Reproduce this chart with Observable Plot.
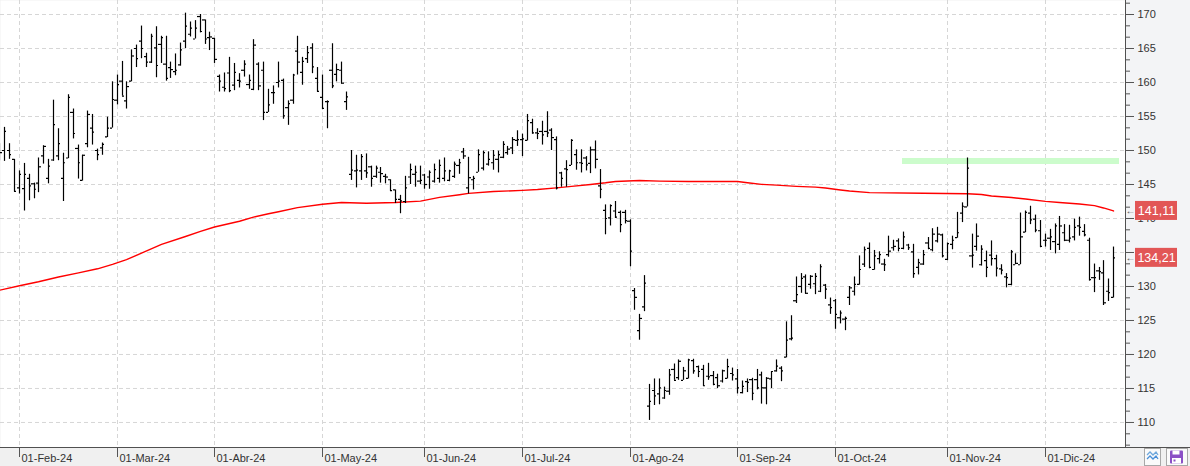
<!DOCTYPE html>
<html><head><meta charset="utf-8">
<script src="https://cdn.jsdelivr.net/npm/d3@7"></script>
<script src="https://cdn.jsdelivr.net/npm/@observablehq/plot@0.6"></script>
<style>
html,body{margin:0;padding:0;background:#f0f0f0;}
#chart{width:1190px;height:466px;}
</style></head><body><div id="chart"></div>
<script>
// ---- data: daily OHLC bars, bar index starts at firstBar ----
const firstBar = -1;
const opens = [
150.2,150.0,150.0,148.7,144.5,144.4,145.9,145.1,145.2,149.2,145.9,
148.6,149.2,145.9,148.9,155.6,150.3,145.6,151.0,153.3,150.0,
150.4,152.0,153.3,157.4,160.2,157.3,160.2,165.0,166.1,163.8,
163.0,165.1,165.6,162.7,162.2,161.6,162.6,166.1,167.1,166.4,
169.7,169.2,166.6,166.5,160.9,159.3,161.4,159.6,160.3,161.8,
159.7,159.0,162.7,161.8,155.6,158.5,160.0,160.3,156.3,157.4,
164.6,161.5,163.5,165.1,160.6,157.8,157.2,161.8,161.2,161.8,
157.2,146.5,147.0,147.0,147.0,147.6,146.2,146.8,146.2,145.7,
144.2,142.8,142.5,146.1,146.5,145.5,146.4,146.1,145.5,145.9,
145.9,145.6,146.2,147.8,149.8,144.5,145.7,146.8,147.4,148.0,
148.2,148.7,149.0,149.7,150.4,151.5,151.6,151.5,154.1,152.6,
152.8,152.8,153.0,151.6,146.7,147.3,147.8,149.4,148.2,148.9,
148.1,150.1,144.8,141.2,140.1,141.1,140.9,140.9,139.6,129.4,
123.5,127.0,112.4,114.7,114.2,113.6,114.6,117.8,116.6,116.2,
116.5,119.1,118.2,117.8,116.8,116.9,116.6,116.1,116.5,117.2,
116.4,114.4,116.0,116.3,116.3,117.0,115.1,116.4,117.6,118.0,
119.6,122.3,127.9,130.0,131.4,130.3,130.4,129.3,130.2,127.3,
127.9,125.4,125.2,128.4,129.3,130.3,133.3,135.6,132.5,134.1,
133.3,134.7,135.7,136.7,135.6,136.1,135.1,132.8,133.3,136.4,
135.4,136.7,137.6,134.0,136.2,137.2,140.8,141.7,134.5,135.9,
133.2,133.8,134.6,134.1,132.6,131.4,130.3,133.2,133.2,138.0,
140.8,139.9,138.2,136.8,137.1,136.6,136.2,137.9,136.8,137.3,
138.9,138.1,136.8,131.3,132.3,132.0,129.3,128.4
];
const highs = [
151.0,153.4,151.0,148.7,147.0,148.1,146.5,145.2,148.9,150.7,148.7,
157.4,153.2,149.6,158.2,156.1,150.8,149.3,155.8,155.3,150.2,
151.1,154.9,160.1,161.1,163.1,160.1,164.8,165.5,168.3,164.3,
167.1,168.2,166.8,166.8,163.0,164.2,165.8,170.2,168.9,169.1,
170.0,169.2,167.4,166.5,161.1,161.4,163.7,162.8,161.3,163.2,
161.1,166.3,162.9,163.0,159.0,159.5,163.0,160.5,157.3,161.2,
166.8,163.7,165.3,165.7,162.2,161.1,157.3,165.7,162.7,163.0,
158.6,150.0,149.3,149.4,149.5,147.7,147.7,147.5,146.5,145.7,
144.2,143.4,146.2,148.0,147.7,147.7,146.5,147.0,148.0,148.6,
148.9,147.1,148.3,148.7,150.3,149.0,146.2,150.1,149.9,149.8,
150.0,149.9,151.3,150.6,151.9,152.9,152.4,155.3,154.6,153.2,
154.3,155.7,153.2,152.0,146.8,148.5,151.6,150.1,150.1,149.1,
150.5,151.4,147.2,142.0,142.0,142.5,141.1,141.2,139.8,129.7,
125.9,131.6,115.6,116.4,116.4,115.2,117.8,118.6,119.2,118.1,
119.3,119.3,118.3,118.4,118.7,117.5,117.1,117.7,119.3,118.0,
117.8,116.1,116.4,116.5,117.8,117.4,116.6,117.5,119.2,118.2,
124.8,125.7,131.4,131.9,131.7,131.6,131.9,133.2,130.3,128.3,
128.1,126.4,125.5,130.0,131.4,134.5,135.8,136.4,135.3,135.1,
134.0,137.4,136.8,137.0,138.0,136.2,136.2,134.0,135.3,137.2,
138.5,138.7,137.7,136.4,137.4,140.9,142.3,148.9,137.7,139.2,
136.0,135.2,136.7,134.6,133.2,131.9,135.3,134.8,140.8,141.1,
141.8,140.5,139.7,137.7,138.4,139.2,140.3,139.1,139.0,139.9,
140.2,139.1,137.1,133.3,132.8,133.8,131.1,135.8
];
const lows = [
148.5,148.4,148.7,143.9,143.6,141.1,142.6,142.9,143.8,148.0,145.1,
148.4,148.5,142.5,148.8,151.7,145.8,145.5,150.4,150.8,148.5,
149.3,151.9,153.3,156.7,158.0,156.1,160.1,162.2,163.5,162.2,
162.8,160.7,162.8,160.2,160.6,161.0,162.4,165.0,166.7,166.4,
167.3,165.6,164.7,162.8,158.6,158.6,158.5,158.8,159.2,160.8,
159.0,158.8,158.8,154.4,155.6,156.8,159.2,154.6,153.7,156.8,
161.1,159.6,162.8,161.3,158.6,156.0,153.2,159.1,160.1,159.8,
155.9,145.6,144.5,145.6,145.9,144.6,145.9,145.2,145.1,144.0,
142.2,140.7,142.2,145.0,144.6,145.0,144.3,144.3,145.2,145.2,
145.4,145.4,145.9,146.5,148.7,143.6,144.2,146.8,147.0,147.7,
147.1,146.7,148.8,149.3,149.4,150.6,149.1,151.4,152.4,151.6,
150.8,151.9,150.0,144.2,144.6,144.6,147.8,147.1,146.7,147.0,
146.6,147.3,142.9,137.6,138.9,140.0,137.9,139.2,132.9,126.5,
122.1,126.3,110.3,112.5,112.6,113.4,114.0,116.2,116.2,116.2,
116.4,117.1,116.6,115.3,116.2,115.4,115.0,115.8,116.4,116.1,
114.2,114.2,114.4,113.2,114.8,112.7,112.6,115.0,117.4,116.0,
119.5,122.0,127.5,129.0,128.9,129.6,128.8,129.1,128.1,125.9,
123.7,124.5,123.5,127.2,128.6,130.2,132.8,132.6,132.4,133.3,
132.2,134.3,135.2,135.1,135.4,135.3,131.2,131.7,133.1,135.4,
135.1,136.4,134.2,133.8,135.4,137.1,139.4,141.7,132.7,135.2,
133.0,131.3,133.0,131.4,131.7,129.8,130.1,133.2,133.2,137.9,
139.1,137.9,135.7,135.8,135.3,134.8,135.3,136.6,136.4,136.7,
137.4,137.3,130.8,129.1,130.9,127.2,127.8,128.3
];
const closes = [
149.7,152.8,149.4,144.0,146.5,146.5,144.8,144.3,147.6,150.6,147.7,
153.8,151.0,148.2,157.8,152.5,148.2,149.3,155.3,152.7,149.4,
150.9,153.3,157.5,159.7,158.0,159.4,163.9,163.5,165.0,163.0,
166.8,162.5,166.6,160.6,161.9,161.8,164.8,168.3,168.0,168.0,
167.5,166.4,166.7,163.4,160.2,159.1,158.8,161.5,160.2,162.7,
160.3,165.5,159.5,155.6,156.7,158.5,160.2,155.1,156.9,161.1,
163.0,163.1,164.4,162.3,158.7,156.2,157.2,159.5,161.9,159.9,
157.9,147.1,147.1,149.1,146.7,145.9,147.4,146.6,146.1,144.1,
142.8,142.6,144.5,147.2,146.8,145.6,145.0,146.8,147.2,147.8,
147.0,147.0,148.0,148.2,149.2,146.0,145.9,149.4,149.7,148.7,
149.3,149.4,150.9,150.2,151.6,151.6,151.7,154.4,152.6,152.5,
152.3,152.6,151.9,144.5,145.9,147.2,151.5,148.2,148.1,147.9,
150.1,148.7,144.3,140.0,141.9,140.2,139.1,139.7,135.2,128.4,
125.3,130.5,113.1,113.9,115.1,114.7,117.0,116.2,119.0,117.6,
119.2,117.6,117.5,115.4,116.7,115.6,115.4,117.6,118.2,117.0,
115.1,115.3,115.9,114.3,115.1,115.1,116.5,117.5,118.3,117.6,
122.1,122.4,128.8,131.2,129.0,131.5,131.5,132.9,129.6,126.9,
125.9,126.1,125.3,129.8,130.3,132.5,135.4,132.8,134.5,134.7,
133.2,135.2,135.9,135.6,137.3,135.7,131.9,133.5,134.7,135.6,
137.7,137.7,134.5,136.3,136.8,137.9,141.8,147.4,134.6,137.4,
135.5,132.8,134.1,132.7,132.4,131.3,135.1,133.4,137.3,140.9,
139.8,138.3,135.9,136.8,137.3,138.9,138.9,136.8,137.1,138.7,
138.7,137.6,131.0,131.3,132.2,127.6,129.1,134.21
];
// moving average (red line), read at bar indices
const maIndex = [-1,3,7,11,15,19,22,25,28,32,37,40,43,48,51,54,56,60,65,69,74,80,85,89,93,95,100,106,109,113,116,120,123,125,130,134,140,150,152,155,158,162,166,168,171,173,177,188,197,200,202,206,209,213,216,220,223,225,227];
const maValue = [129.45,130.1,130.7,131.4,132.0,132.6,133.25,133.95,134.9,136.2,137.35,138.1,138.75,139.6,140.2,140.7,141.0,141.6,142.1,142.35,142.25,142.35,142.55,143.1,143.5,143.7,143.97,144.13,144.26,144.5,144.73,145.0,145.25,145.45,145.59,145.5,145.44,145.44,145.25,145.02,144.9,144.72,144.61,144.48,144.2,144.04,143.8,143.72,143.63,143.52,143.3,143.08,142.86,142.52,142.36,142.14,141.9,141.55,141.11];
// month axis
const monthLabels = ["01-Feb-24","01-Mar-24","01-Abr-24","01-May-24","01-Jun-24","01-Jul-24","01-Ago-24","01-Sep-24","01-Oct-24","01-Nov-24","01-Dic-24"];
const monthIndex = [3,23,43,65,86,106,128,150,170,193,213];
// green resistance level
const levelFrom = [183.8], levelTo = [228.2], levelValue = [148.45];
// last-value labels: moving average, close
const lastValues = [141.11, 134.21];

// ---- build ----
const bars = opens.map((o, k) => ({i: k + firstBar, o, h: highs[k], l: lows[k], c: closes[k]}));
const ma = maIndex.map((i, k) => ({i, v: maValue[k]}));
const levels = levelValue.map((v, k) => ({from: levelFrom[k], to: levelTo[k], v}));
const xDomain = [-0.88, 229.42];
const yDomain = [106.32, 172.06];
const yMajor = d3.range(110, 171, 5);
const yMinor = d3.range(-3, 40).map(k => 110 + k * 5 / 3)
  .filter(v => v > yDomain[0] && v < yDomain[1] && Math.abs(v / 5 - Math.round(v / 5)) > 0.01);
const fmt = v => d3.format(".2f")(v).replace(".", ",");

const chart = Plot.plot({
  width: 1190, height: 466,
  marginLeft: 0, marginRight: 65, marginTop: 0, marginBottom: 19,
  style: {background: "transparent", fontFamily: "Liberation Sans, Arial, sans-serif", overflow: "visible"},
  x: {domain: xDomain, axis: null, round: true},
  y: {domain: yDomain, axis: null},
  marks: [
    Plot.frame({fill: "white", stroke: "none"}),
    Plot.ruleY(yMajor, {stroke: "#d6d6d6", strokeDasharray: "4,3"}),
    Plot.ruleX(monthIndex, {stroke: "#d6d6d6", strokeDasharray: "4,3"}),
    Plot.ruleY(levels, {y: "v", x1: "from", x2: "to", stroke: "#ccfccc", strokeWidth: 6}),
    Plot.line(ma, {x: "i", y: "v", stroke: "#ff0000", strokeWidth: 1.4, clip: true}),
    Plot.ruleX(bars, {x: "i", y1: "l", y2: "h", stroke: "black", strokeWidth: 1.2, clip: true}),
    Plot.ruleY(bars, {y: "o", x1: d => d.i - 0.45, x2: "i", stroke: "black", strokeWidth: 1.2, clip: true}),
    Plot.ruleY(bars, {y: "c", x1: "i", x2: d => d.i + 0.45, stroke: "black", strokeWidth: 1.2, clip: true}),
    Plot.axisY(yMajor, {anchor: "right", tickSize: 8, tickPadding: 4, fontSize: 11, stroke: "#555", fill: "#333", label: null}),
    Plot.axisY(yMinor, {anchor: "right", tickSize: 4, tickFormat: () => "", stroke: "#555", label: null}),
    Plot.axisX(monthIndex, {anchor: "bottom", tickSize: 10, tickFormat: () => "", stroke: "#555", label: null}),
    Plot.text(monthIndex, {x: d => d, text: (d, k) => monthLabels[k], frameAnchor: "bottom", dy: 11, dx: 2,
      textAnchor: "start", lineAnchor: "middle", fontSize: 11, fill: "#333"}),
    Plot.rect(lastValues, {x1: xDomain[1], x2: xDomain[1], y1: d => d, y2: d => d,
      insetLeft: -21, insetRight: -21, insetTop: -9.5, insetBottom: -9.5, dx: 31, fill: "#e25656"}),
    Plot.text(lastValues, {x: xDomain[1], y: d => d, text: fmt, dx: 31, fill: "white", fontSize: 12.5}),
    Plot.text(lastValues, {x: xDomain[1], y: d => d, text: () => "←", dx: 5, fill: "#555", fontSize: 10})
  ]
});
document.getElementById("chart").appendChild(chart);

// ---- window chrome (panel background, axis lines, toolbar buttons) ----
const svg = d3.select(chart);
svg.style("background", "#f0f0f0");
svg.insert("rect", ":first-child").attr("x", 1125).attr("y", 0).attr("width", 65).attr("height", 447).attr("fill", "#f3f4f6");
svg.append("line").attr("x1", 1125.5).attr("x2", 1125.5).attr("y1", 0).attr("y2", 447).attr("stroke", "#505050");
svg.append("line").attr("x1", 0).attr("x2", 1190).attr("y1", 447.5).attr("y2", 447.5).attr("stroke", "#505050");
const g = svg.append("g");
g.append("rect").attr("x", 1144.5).attr("y", 448.5).attr("width", 16).attr("height", 17).attr("fill", "#fafafa").attr("stroke", "#a8a8a8");
g.append("polyline").attr("points", "1147,455 1150,452 1153,455 1156,452 1158,455").attr("fill", "none").attr("stroke", "#6fa8dc").attr("stroke-width", 1.3);
g.append("polyline").attr("points", "1147,459 1150,456 1153,459 1156,456 1158,459").attr("fill", "none").attr("stroke", "#4a90d9").attr("stroke-width", 1.3);
g.append("rect").attr("x", 1166.5).attr("y", 448.5).attr("width", 21).attr("height", 17).attr("fill", "#fafafa").attr("stroke", "#a8a8a8");
g.append("rect").attr("x", 1170).attr("y", 450.5).attr("width", 13).attr("height", 13).attr("rx", 1).attr("fill", "#8b4fc6");
g.append("rect").attr("x", 1172.5).attr("y", 450.5).attr("width", 7).attr("height", 4).attr("fill", "#ffffff");
g.append("rect").attr("x", 1172).attr("y", 458).attr("width", 9).attr("height", 5.5).attr("fill", "#ffffff");
g.append("rect").attr("x", 1173.5).attr("y", 459.5).attr("width", 2).attr("height", 2).attr("fill", "#8b4fc6");
</script></body></html>
